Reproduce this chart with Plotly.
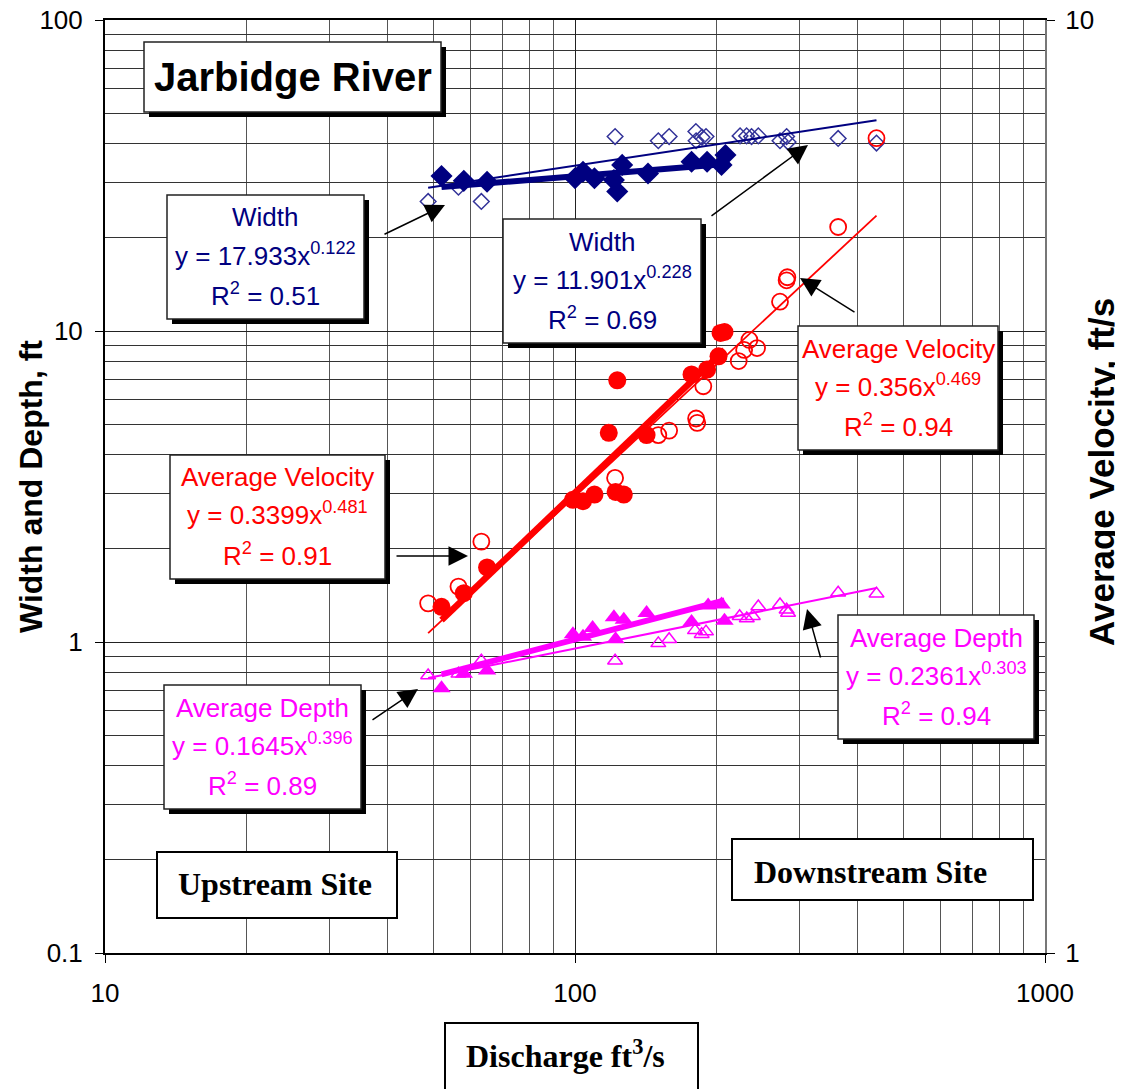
import plotly.graph_objects as go

# ---------------- data ----------------
# Upstream site (filled markers)
q_width_up = [52, 58, 65, 100, 104, 110, 121, 123, 126, 143, 177, 191, 205, 209]
width_up = [31.5, 30.4, 30.2, 31.0, 32.5, 31.0, 30.6, 28.1, 34.2, 32.1, 35.0, 35.0, 34.2, 36.8]

q_vel_up = [52, 58, 65, 99, 104, 110, 118, 122, 123, 127, 142, 177, 191, 202, 204, 208]
vel_up = [2.35, 2.43, 2.59, 3.06, 3.05, 3.10, 3.61, 3.12, 4.11, 3.10, 3.59, 4.17, 4.22, 4.36, 4.62, 4.63]

q_depth_up = [52, 58, 65, 99, 104, 109, 121, 122, 127, 142, 177, 192, 205, 208]
depth_up = [0.71, 0.79, 0.81, 1.06, 1.04, 1.11, 1.20, 1.02, 1.18, 1.24, 1.16, 1.31, 1.32, 1.17]

# Downstream site (open markers)
q_width_dn = [48.7, 56.5, 63.2, 121.7, 150.4, 158.6, 180.8, 181, 186.3, 190, 224.5, 231.8, 237.5, 245.5, 273, 282, 284, 363, 438]
width_dn = [26.1, 29.0, 26.1, 42.2, 40.9, 42.2, 43.8, 40.9, 42.0, 42.2, 42.4, 42.4, 42.2, 42.4, 40.9, 42.2, 40.5, 41.6, 40.2]

q_vel_dn = [48.7, 56.5, 63.2, 121.7, 150.4, 158.6, 181, 182, 187.5, 223, 229, 235, 244, 273, 282, 283, 363, 438]
vel_dn = [2.37, 2.47, 2.76, 3.23, 3.59, 3.63, 3.74, 3.70, 4.05, 4.31, 4.43, 4.54, 4.45, 4.99, 5.26, 5.30, 6.00, 7.47]

q_depth_dn = [48.7, 56.5, 63.2, 121.7, 150.4, 158.6, 180, 186, 190, 224, 232, 239, 245.5, 273, 282, 284, 363, 438]
depth_dn = [0.78, 0.79, 0.87, 0.87, 0.99, 1.02, 1.09, 1.06, 1.08, 1.21, 1.19, 1.21, 1.30, 1.32, 1.27, 1.24, 1.44, 1.43]

# Power-law trendline coefficients  y = a * x^b
fit_names = ["width_up", "width_dn", "vel_up", "vel_dn", "depth_up", "depth_dn"]
fit_a = [17.933, 11.901, 0.3399, 0.356, 0.1645, 0.2361]
fit_b = [0.122, 0.228, 0.481, 0.469, 0.396, 0.303]
fit_r2 = [0.51, 0.69, 0.91, 0.94, 0.89, 0.94]

x_ticks = [10, 100, 1000]
y_ticks = [0.1, 1, 10, 100]
y2_ticks = [1, 10]

# ---------------- figure ----------------
# page coordinates (the page body adds an 8px offset before the figure)
OFF = 8
PAGE_W, PAGE_H = 1123, 1089
W, H = PAGE_W - OFF, PAGE_H - OFF
L, R, T, B = 105, 1045, 20, 953
ARIAL = "Arial, Liberation Sans, sans-serif"
TIMES = "Times New Roman, Liberation Serif, serif"


def px(x):
    return (x - L) / (R - L)


def py(y):
    return (B - y) / (B - T)


NAVY = "#000080"
NAVY_OPEN = "#333399"
RED = "#FF0000"
MAG = "#FF00FF"

fig = go.Figure()

# markers
fig.add_trace(go.Scatter(x=q_width_dn, y=width_dn, mode="markers",
                         marker=dict(symbol="diamond-open", size=12, color=NAVY_OPEN, line=dict(width=1.5))))
fig.add_trace(go.Scatter(x=q_width_up, y=width_up, mode="markers",
                         marker=dict(symbol="diamond", size=17, color=NAVY)))
fig.add_trace(go.Scatter(x=q_depth_dn, y=depth_dn, mode="markers",
                         marker=dict(symbol="triangle-up-open", size=13, color=MAG, line=dict(width=1.5))))
fig.add_trace(go.Scatter(x=q_depth_up, y=depth_up, mode="markers",
                         marker=dict(symbol="triangle-up", size=16, color=MAG)))
fig.add_trace(go.Scatter(x=q_vel_dn, y=vel_dn, mode="markers", yaxis="y2",
                         marker=dict(symbol="circle-open", size=16, color=RED, line=dict(width=1.8))))
fig.add_trace(go.Scatter(x=q_vel_up, y=vel_up, mode="markers", yaxis="y2",
                         marker=dict(symbol="circle", size=18, color=RED)))


def trend(idx, q, color, width, yaxis="y"):
    a, b = fit_a[idx], fit_b[idx]
    xs = [min(q), max(q)]
    ys = [a * x ** b for x in xs]
    fig.add_trace(go.Scatter(x=xs, y=ys, mode="lines", yaxis=yaxis,
                             line=dict(color=color, width=width)))


trend(0, q_width_up, NAVY, 6)
trend(1, q_width_dn, NAVY, 2)
trend(4, q_depth_up, MAG, 6)
trend(5, q_depth_dn, MAG, 2)
trend(2, q_vel_up, RED, 6.5, "y2")
trend(3, q_vel_dn, RED, 1.8, "y2")

minor_x = [k * 10 ** d for d in (1, 2) for k in range(2, 10)]
minor_y = [round(k * 10 ** d, 3) for d in (-1, 0, 1) for k in range(2, 10)]

fig.update_layout(
    width=W, height=H,
    margin=dict(l=L - OFF, r=PAGE_W - R, t=T - OFF, b=PAGE_H - B, autoexpand=False),
    paper_bgcolor="white", plot_bgcolor="white",
    showlegend=False,
    font=dict(family=ARIAL, color="black"),
    xaxis=dict(type="log", range=[1, 3], tickmode="array", tickvals=x_ticks,
               ticktext=[str(v) for v in x_ticks], ticks="outside", ticklen=8,
               tickcolor="black", tickwidth=1, showline=True, linecolor="black",
               linewidth=2, mirror=True, showgrid=True, gridcolor="#222222", gridwidth=1,
               zeroline=False, tickfont=dict(size=26, family=ARIAL), ticklabelstandoff=8,
               automargin=False, ticklabeloverflow="allow",
               minor=dict(tickmode="array", tickvals=minor_x, showgrid=True,
                          gridcolor="#555555", gridwidth=1, ticks="")),
    yaxis=dict(type="log", range=[-1, 2], tickmode="array", tickvals=y_ticks,
               ticktext=["0.1", "1", "10", "100"], ticks="outside", ticklen=8,
               tickcolor="black", showline=True, linecolor="black", linewidth=2,
               showgrid=True, gridcolor="#222222", gridwidth=1, zeroline=False,
               tickfont=dict(size=26, family=ARIAL), ticklabelstandoff=7,
               automargin=False, ticklabeloverflow="allow",
               minor=dict(tickmode="array", tickvals=minor_y, showgrid=True,
                          gridcolor="#333333", gridwidth=1, ticks="")),
    yaxis2=dict(type="log", range=[0, 1], overlaying="y", side="right", tickmode="array",
                tickvals=y2_ticks, ticktext=["1", "10"], ticks="outside", ticklen=8,
                tickcolor="black", showline=True, linecolor="#777777", linewidth=2,
                showgrid=False, zeroline=False, tickfont=dict(size=26, family=ARIAL),
                ticklabelstandoff=5, automargin=False, ticklabeloverflow="allow"),
)

# ---------------- boxes (page pixel positions) ----------------
shadow_boxes = [
    (144, 42, 441, 112),   # title
    (167, 195, 364, 319),  # width up
    (503, 219, 701, 343),  # width dn
    (798, 326, 998, 450),  # velocity dn
    (170, 455, 385, 579),  # velocity up
    (164, 685, 361, 809),  # depth up
    (838, 615, 1034, 739), # depth dn
]
plain_boxes = [
    (157, 852, 397, 918),
    (732, 839, 1033, 900),
]
shapes = []
for (x0, y0, x1, y1) in shadow_boxes:
    shapes.append(dict(type="rect", xref="paper", yref="paper", layer="above",
                       x0=px(x0 + 5), x1=px(x1 + 5), y0=py(y1 + 5), y1=py(y0 + 5),
                       fillcolor="black", line=dict(width=0)))
    shapes.append(dict(type="rect", xref="paper", yref="paper", layer="above",
                       x0=px(x0), x1=px(x1), y0=py(y1), y1=py(y0),
                       fillcolor="white", line=dict(color="#222222", width=1.5)))
for (x0, y0, x1, y1) in plain_boxes:
    shapes.append(dict(type="rect", xref="paper", yref="paper", layer="above",
                       x0=px(x0), x1=px(x1), y0=py(y1), y1=py(y0),
                       fillcolor="white", line=dict(color="black", width=2)))
# discharge label box (extends past bottom)
shapes.append(dict(type="rect", xref="paper", yref="paper", layer="above",
                   x0=px(445), x1=px(698), y0=py(1100), y1=py(1023),
                   fillcolor="white", line=dict(color="black", width=2)))
fig.update_layout(shapes=shapes)


def text(x, y, s, size, color="black", family=ARIAL, angle=0):
    fig.add_annotation(x=px(x), y=py(y), xref="paper", yref="paper", text=s,
                       showarrow=False, xanchor="center", yanchor="middle",
                       textangle=angle, font=dict(size=size, color=color, family=family))


def eq_lines(cx, ys, title, idx, color):
    text(cx, ys[0], title, 26, color)
    text(cx, ys[1], "y = %sx<sup>%s</sup>" % (fit_a[idx], fit_b[idx]), 26, color)
    text(cx, ys[2], "R<sup>2</sup> = %.2f" % fit_r2[idx], 26, color)


text(293, 77, "<b>Jarbidge River</b>", 40)
eq_lines(265, (217, 254, 294), "Width", 0, NAVY)
eq_lines(602, (242, 279, 318), "Width", 1, NAVY)
eq_lines(898, (349, 386, 425), "Average Velocity", 3, RED)
eq_lines(277, (477, 514, 554), "Average Velocity", 2, RED)
eq_lines(262, (708, 744, 784), "Average Depth", 4, MAG)
eq_lines(936, (638, 674, 714), "Average Depth", 5, MAG)

text(275, 884, "<b>Upstream Site</b>", 32, family=TIMES)
text(870, 872, "<b>Downstream Site</b>", 32, family=TIMES)
text(565, 1054, "<b>Discharge ft<sup>3</sup>/s</b>", 32, family=TIMES)

text(31, 487, "<b>Width and Depth, ft</b>", 32, angle=-90)
text(1101, 472, "<b>Average Velocity, ft/s</b>", 35, angle=-90)

# ---------------- arrows ----------------
arrows = [
    ((383, 235), (445, 205)),
    ((710, 217), (808, 145)),
    ((856, 313), (800, 278)),
    ((395, 556), (468, 556)),
    ((371, 721), (418, 689)),
    ((821, 659), (807, 609)),
]
for (tx, ty), (hx, hy) in arrows:
    fig.add_annotation(x=px(hx), y=py(hy), xref="paper", yref="paper",
                       ax=tx - hx, ay=ty - hy, axref="pixel", ayref="pixel",
                       text="", showarrow=True, arrowhead=2, arrowsize=2.6,
                       arrowwidth=1.5, arrowcolor="black")

fig.write_html("out.html")
